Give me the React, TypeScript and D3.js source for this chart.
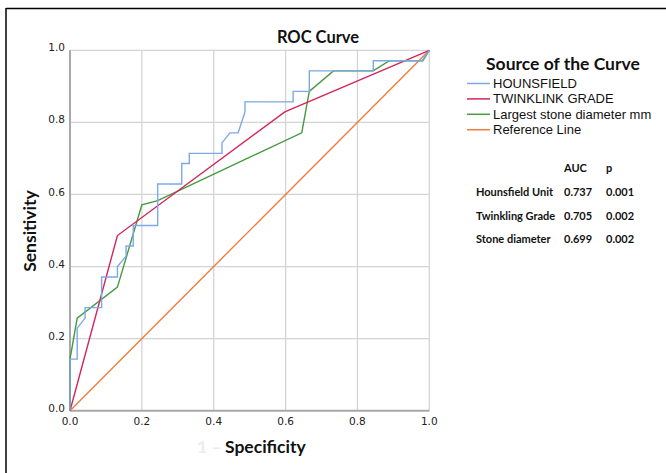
import React from "react";
import * as d3 from "d3";

// ROC curve points (1 - specificity, sensitivity)
const hounsfieldFpr = [0, 0, 0.02, 0.02, 0.042, 0.042, 0.088, 0.088, 0.132, 0.132, 0.156, 0.156, 0.176, 0.176, 0.244, 0.244, 0.311, 0.311, 0.332, 0.332, 0.423, 0.423, 0.445, 0.468, 0.487, 0.487, 0.621, 0.621, 0.666, 0.666, 0.844, 0.844, 0.98, 1];
const hounsfieldTpr = [0, 0.143, 0.143, 0.229, 0.257, 0.286, 0.286, 0.371, 0.371, 0.4, 0.429, 0.457, 0.457, 0.514, 0.514, 0.629, 0.629, 0.686, 0.686, 0.714, 0.714, 0.743, 0.771, 0.771, 0.829, 0.857, 0.857, 0.886, 0.886, 0.943, 0.943, 0.971, 0.971, 1];

const twinkleFpr = [0, 0.132, 0.598, 1];
const twinkleTpr = [0, 0.486, 0.829, 1];

const stoneFpr = [0, 0, 0.02, 0.132, 0.2, 0.244, 0.645, 0.666, 0.733, 0.844, 0.889, 0.982, 1];
const stoneTpr = [0, 0.143, 0.257, 0.343, 0.571, 0.583, 0.771, 0.886, 0.943, 0.943, 0.971, 0.971, 1];

const refFpr = [0, 1];
const refTpr = [0, 1];

const ticks = [0, 0.2, 0.4, 0.6, 0.8, 1.0];

const seriesNames = ["HOUNSFIELD", "TWINKLINK GRADE", "Largest stone diameter mm", "Reference Line"];
const seriesColors = ["#7ea8e6", "#d3265a", "#449a3e", "#f07c3c"];

const tableHeader = ["AUC", "p"];
const tableRows = ["Hounsfield Unit", "Twinkling Grade", "Stone diameter"];
const aucValues = ["0.737", "0.705", "0.699"];
const pValues = ["0.001", "0.002", "0.002"];

const W = 666, H = 473;

export default function App() {
  const x = d3.scaleLinear().domain([0, 1]).range([70, 429.3]);
  const y = d3.scaleLinear().domain([0, 1]).range([410.7, 50.3]);

  const line = d3.line<[number, number]>()
    .x(d => x(d[0]))
    .y(d => y(d[1]));

  const zip = (a: number[], b: number[]) => a.map((v, i) => [v, b[i]] as [number, number]);
  const series = [
    zip(hounsfieldFpr, hounsfieldTpr),
    zip(twinkleFpr, twinkleTpr),
    zip(stoneFpr, stoneTpr),
    zip(refFpr, refTpr),
  ];
  // draw order: reference underneath
  const drawOrder = [3, 2, 1, 0];

  const font = "Lato, 'Open Sans', sans-serif";
  const legendFont = "'Liberation Sans', Arial, sans-serif";
  const tickFont = "'DejaVu Sans', Verdana, sans-serif";

  return (
    <svg width={W} height={H} style={{ position: "absolute", left: 0, top: 0, background: "#fff" }}>
      {/* frame */}
      <line x1={6} x2={6} y1={8} y2={H} stroke="#000" strokeWidth={1.5} />
      <line x1={6} x2={W} y1={8.5} y2={8.5} stroke="#000" strokeWidth={1.5} />

      {/* grid */}
      {ticks.slice(1).map(t => (
        <g key={"g" + t}>
          <line x1={x(t)} x2={x(t)} y1={y(0)} y2={y(1)} stroke="#d4d4d4" strokeWidth={1.3} />
          <line x1={x(0)} x2={x(1)} y1={y(t)} y2={y(t)} stroke="#d4d4d4" strokeWidth={1.3} />
        </g>
      ))}

      {/* axes */}
      <line x1={x(0)} x2={x(0)} y1={y(0)} y2={y(1)} stroke="#a8a8a8" strokeWidth={2} />
      <line x1={x(0)} x2={x(1)} y1={y(0)} y2={y(0)} stroke="#a8a8a8" strokeWidth={2} />

      {ticks.map(t => (
        <text key={"yt" + t} x={x(0) - 5} y={y(t)} dy="0.1em" textAnchor="end" fontFamily={tickFont} fontSize={10.5} fill="#222">
          {t.toFixed(1)}
        </text>
      ))}
      {ticks.map(t => (
        <text key={"xt" + t} x={x(t)} y={y(0) + 14} textAnchor="middle" fontFamily={tickFont} fontSize={10.5} fill="#222">
          {t.toFixed(1)}
        </text>
      ))}

      {/* curves */}
      {drawOrder.map(i => (
        <path key={"s" + i} d={line(series[i]) || ""} fill="none" stroke={seriesColors[i]} strokeWidth={1.4} />
      ))}

      {/* titles */}
      <text x={318} y={43} textAnchor="middle" fontFamily={font} fontWeight="bold" fontSize={16.5} fill="#111">ROC Curve</text>
      <text transform="translate(36,231) rotate(-90)" textAnchor="middle" fontFamily={font} fontWeight="bold" fontSize={17.5} fill="#111">Sensitivity</text>
      <text x={197} y={453} fontFamily={font} fontWeight="bold" fontSize={17.5} fill="#ececec">1 –</text>
      <text x={225} y={453} fontFamily={font} fontWeight="bold" fontSize={17.5} fill="#111">Specificity</text>

      {/* legend */}
      <text x={486} y={70} fontFamily={font} fontWeight="bold" fontSize={17.5} fill="#111">Source of the Curve</text>
      {seriesNames.map((n, i) => (
        <g key={"l" + i} transform={`translate(467,${83.5 + i * 15.4})`}>
          <line x1={0} x2={23} y1={0} y2={0} stroke={seriesColors[i]} strokeWidth={1.5} />
          <text x={26} y={0} dy="0.35em" fontFamily={legendFont} fontSize={13} fill="#111">{n}</text>
        </g>
      ))}

      {/* AUC table */}
      {tableHeader.map((h, i) => (
        <text key={"th" + i} x={[564, 606][i]} y={172} fontFamily={font} fontWeight="bold" fontSize={11} fill="#111">{h}</text>
      ))}
      {tableRows.map((r, i) => (
        <g key={"tr" + i} transform={`translate(0,${196 + i * 23.5})`}>
          <text x={476} y={0} fontFamily={font} fontWeight="bold" fontSize={11} fill="#111">{r}</text>
          <text x={564} y={0} fontFamily={font} fontWeight="bold" fontSize={11} fill="#111">{aucValues[i]}</text>
          <text x={606} y={0} fontFamily={font} fontWeight="bold" fontSize={11} fill="#111">{pValues[i]}</text>
        </g>
      ))}
    </svg>
  );
}
